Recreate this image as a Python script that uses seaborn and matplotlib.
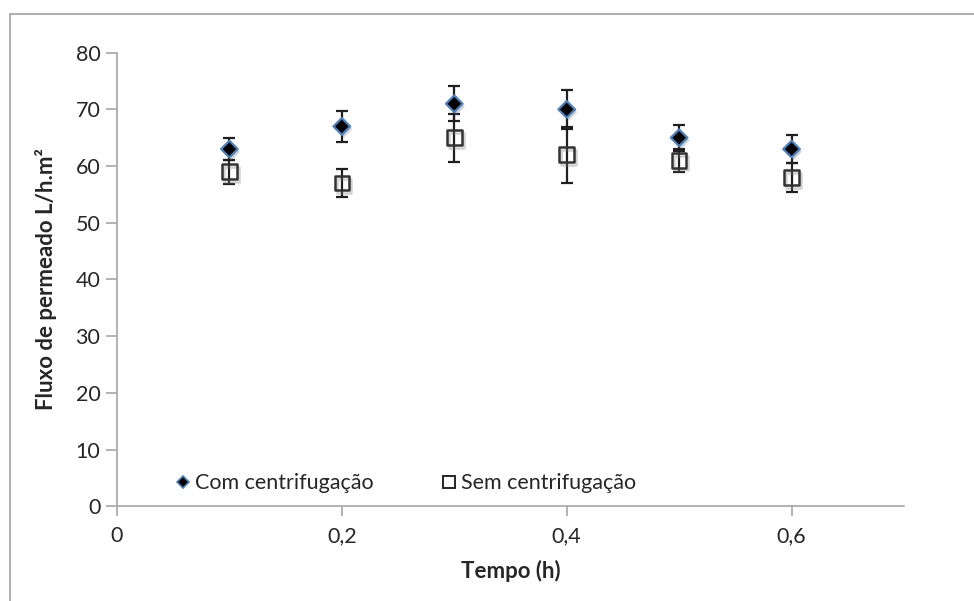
import matplotlib
matplotlib.use("Agg")
import matplotlib.pyplot as plt
import matplotlib.patheffects as pe
import pandas as pd
import seaborn as sns
from matplotlib.lines import Line2D
from matplotlib.patches import Rectangle

# Permeate flux over time, with and without centrifugation
tempo = [0.1, 0.2, 0.3, 0.4, 0.5, 0.6]
fluxo_com = [63, 67, 71, 70, 65, 63]
erro_com = [1.9, 2.8, 3.1, 3.4, 2.3, 2.5]
fluxo_sem = [59, 57, 65, 62, 61, 58]
erro_sem = [2.1, 2.5, 4.2, 4.9, 2.0, 2.5]

serie_com = "Com centrifugação"
serie_sem = "Sem centrifugação"
x_ticks = [0, 0.2, 0.4, 0.6]
x_tick_labels = ["0", "0,2", "0,4", "0,6"]
y_ticks = [0, 10, 20, 30, 40, 50, 60, 70, 80]

sns.set_theme(style="white")
plt.rcParams["font.family"] = ["Lato", "DejaVu Sans"]

texto = "#262626"
eixo = "#a6a6a6"
azul = "#4f81bd"
fs = 15.5

df_com = pd.DataFrame({"tempo": tempo, "fluxo": fluxo_com})
df_sem = pd.DataFrame({"tempo": tempo, "fluxo": fluxo_sem})

fig = plt.figure(figsize=(9.74, 6.01), dpi=100)
ax = fig.add_axes([0.1201, 0.1576, 0.8080, 0.7547])

# error bars sit under the markers
for y, e in ((fluxo_sem, erro_sem), (fluxo_com, erro_com)):
    ax.errorbar(tempo, y, yerr=e, fmt="none", ecolor="#1f1f1f",
                elinewidth=1.6, capsize=4.6, capthick=1.6, zorder=2)

sns.scatterplot(data=df_sem, x="tempo", y="fluxo", ax=ax, marker="s", s=110,
                facecolor="none", edgecolor="#333333", linewidth=1.8, zorder=3)
quadrados = ax.collections[-1]
quadrados.set_path_effects([pe.SimpleLineShadow(offset=(1.5, -2), shadow_color="#808080", alpha=0.35),
                            pe.Normal()])

sns.scatterplot(data=df_com, x="tempo", y="fluxo", ax=ax, marker="D", s=72,
                color="black", edgecolor=azul, linewidth=1.6, zorder=4)
losangos = ax.collections[-1]
losangos.set_path_effects([pe.SimplePatchShadow(offset=(1.5, -2), shadow_rgbFace="#808080", alpha=0.35),
                           pe.Normal()])

ax.set_xlim(0, 0.7)
ax.set_ylim(0, 80)
ax.set_xticks(x_ticks)
ax.set_xticklabels(x_tick_labels)
ax.set_yticks(y_ticks)

for s in ("top", "right"):
    ax.spines[s].set_visible(False)
for s in ("left", "bottom"):
    ax.spines[s].set_color(eixo)
    ax.spines[s].set_linewidth(1.2)

ax.tick_params(axis="y", direction="out", length=8, width=1.2, color=eixo,
               labelsize=fs, labelcolor=texto, pad=4, left=True)
ax.tick_params(axis="x", direction="out", length=7, width=1.2, color=eixo,
               labelsize=fs, labelcolor=texto, pad=7, bottom=True)

ax.set_xlabel("Tempo (h)", fontsize=16, fontweight="bold", color=texto, labelpad=10)
ax.set_ylabel("Fluxo de permeado L/h.m²", fontsize=16, fontweight="bold", color=texto, labelpad=13)

handles = [
    Line2D([], [], marker="D", ls="", mfc="black", mec=azul, mew=1.2, ms=6.5),
    Line2D([], [], marker="s", ls="", mfc="none", mec="#262626", mew=1.4, ms=9),
]
leg = ax.legend(handles, [serie_com, serie_sem], ncol=2, frameon=False,
                loc="lower left", bbox_to_anchor=(0.062, 0.01), fontsize=fs,
                handlelength=0.8, handletextpad=0.15, columnspacing=3.1,
                borderaxespad=0)
for t in leg.get_texts():
    t.set_color(texto)

# chart area frame
fig.patches.append(Rectangle((10 / 974, -0.1), 1.2, 1 - 13.7 / 601 + 0.1,
                             transform=fig.transFigure, fill=False,
                             edgecolor="#a0a0a0", linewidth=1.2))

fig.savefig("out.png", dpi=100)
